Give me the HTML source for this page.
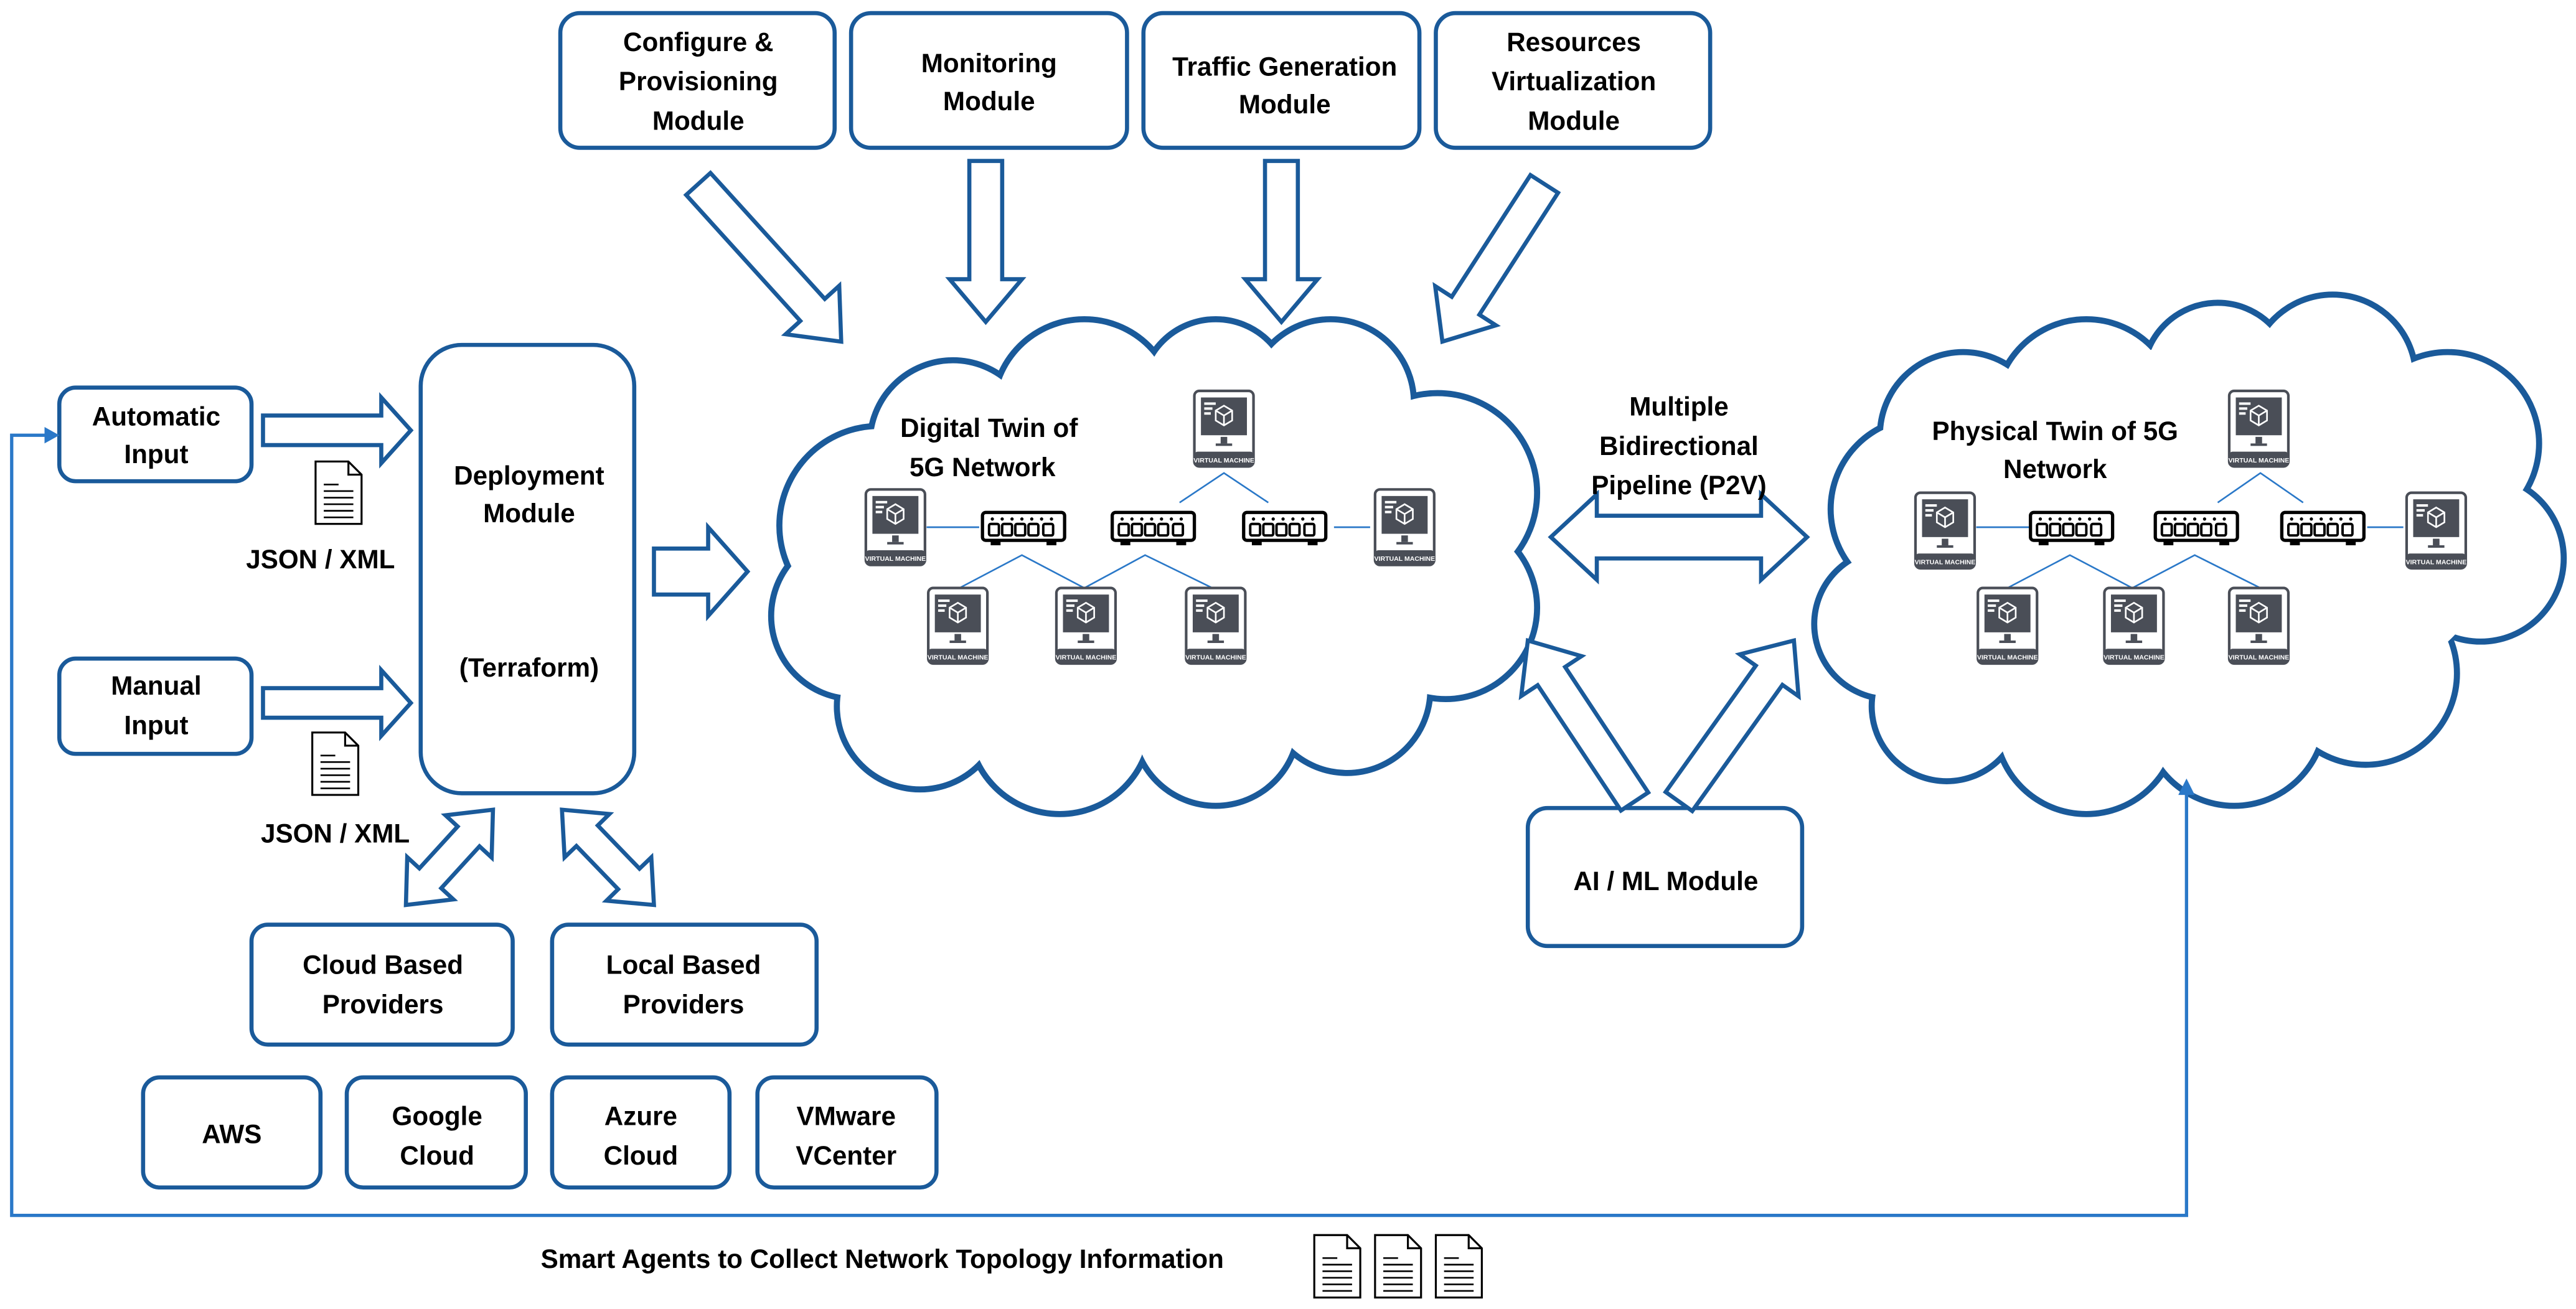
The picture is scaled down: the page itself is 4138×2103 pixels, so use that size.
<!DOCTYPE html>
<html><head><meta charset="utf-8"><style>
html,body{margin:0;padding:0;background:#fff;width:4138px;height:2103px;overflow:hidden}
svg{display:block}
text{font-family:"Liberation Sans Narrow","Liberation Sans",sans-serif;font-weight:bold;fill:#000}
</style></head><body>
<svg id="s" width="4138" height="2103" viewBox="0 0 1568 797" xmlns="http://www.w3.org/2000/svg">
<defs>
<g id="vm">
<rect x="0" y="0" width="36" height="46" rx="3" fill="#fff" stroke="#4a4e57" stroke-width="1.6"/>
<rect x="4" y="4" width="28" height="23" fill="#4a4e57"/>
<rect x="6" y="7" width="7" height="1.5" fill="#fff"/><rect x="6" y="10" width="5" height="1.5" fill="#fff"/><rect x="6" y="13" width="4" height="1.5" fill="#fff"/>
<path d="M18 9 L23 12 L23 18 L18 21 L13 18 L13 12 Z M13 12 L18 15 L23 12 M18 15 L18 21" fill="none" stroke="#fff" stroke-width="1"/>
<rect x="16" y="28" width="4" height="4" fill="#4a4e57"/><rect x="13" y="32" width="10" height="1.5" fill="#4a4e57"/>
<rect x="0" y="37" width="36" height="9" rx="2" fill="#4a4e57"/>
<text x="18" y="43.5" text-anchor="middle" style="font-size:4px;fill:#fff">VIRTUAL MACHINE</text>
</g>
<g id="sw">
<rect x="0" y="0" width="50" height="17" rx="2" fill="#fff" stroke="#000" stroke-width="2"/>
<g fill="#000"><circle cx="6" cy="4" r="1"/><circle cx="12" cy="4" r="1"/><circle cx="18" cy="4" r="1"/><circle cx="24" cy="4" r="1"/><circle cx="30" cy="4" r="1"/><circle cx="36" cy="4" r="1"/><circle cx="42" cy="4" r="1"/></g>
<g fill="none" stroke="#000" stroke-width="1.5"><rect x="4" y="7" width="6" height="7" rx="1"/><rect x="12" y="7" width="6" height="7" rx="1"/><rect x="20" y="7" width="6" height="7" rx="1"/><rect x="28" y="7" width="6" height="7" rx="1"/><rect x="37" y="7" width="6" height="7" rx="1"/></g>
<rect x="5" y="17" width="6" height="3" fill="#000"/><rect x="39" y="17" width="6" height="3" fill="#000"/>
</g>
<g id="doc">
<path d="M0 0 H20 L28 8 V38 H0 Z M20 0 V8 H28" fill="#fff" stroke="#000" stroke-width="1.2"/>
<g stroke="#000" stroke-width="1"><line x1="5" y1="14" x2="14" y2="14"/><line x1="5" y1="18" x2="23" y2="18"/><line x1="5" y1="22" x2="23" y2="22"/><line x1="5" y1="26" x2="23" y2="26"/><line x1="5" y1="30" x2="23" y2="30"/><line x1="5" y1="34" x2="23" y2="34"/></g>
</g>
</defs>
<g id="clouds"></g>
<g fill="#fff" stroke="#1a5a9a" stroke-width="2.5">
<rect x="341" y="8" width="167" height="82" rx="12"/>
<rect x="518" y="8" width="168" height="82" rx="12"/>
<rect x="696" y="8" width="168" height="82" rx="12"/>
<rect x="874" y="8" width="167" height="82" rx="12"/>
<rect x="36" y="236" width="117" height="57" rx="10"/>
<rect x="36" y="401" width="117" height="58" rx="10"/>
<rect x="256" y="210" width="130" height="273" rx="25"/>
<rect x="153" y="563" width="159" height="73" rx="10"/>
<rect x="336" y="563" width="161" height="73" rx="10"/>
<rect x="87" y="656" width="108" height="67" rx="10"/>
<rect x="211" y="656" width="109" height="67" rx="10"/>
<rect x="336" y="656" width="108" height="67" rx="10"/>
<rect x="461" y="656" width="109" height="67" rx="10"/>
<rect x="930" y="492" width="167" height="84" rx="12"/>
</g>
<g id="arrows" fill="#fff" stroke="#1a5a9a" stroke-width="2.5" stroke-linejoin="miter"></g>
<g style="font-size:16px" text-anchor="middle">
<text x="425" y="31">Configure &amp;</text><text x="425" y="55">Provisioning</text><text x="425" y="79">Module</text>
<text x="602" y="44">Monitoring</text><text x="602" y="67">Module</text>
<text x="782" y="46">Traffic Generation</text><text x="782" y="69">Module</text>
<text x="958" y="31">Resources</text><text x="958" y="55">Virtualization</text><text x="958" y="79">Module</text>
<text x="95" y="259">Automatic</text><text x="95" y="282">Input</text>
<text x="95" y="423">Manual</text><text x="95" y="447">Input</text>
<text x="322" y="295">Deployment</text><text x="322" y="318">Module</text>
<text x="322" y="412">(Terraform)</text>
<text x="195" y="346">JSON / XML</text>
<text x="204" y="513">JSON / XML</text>
<text x="233" y="593">Cloud Based</text><text x="233" y="617">Providers</text>
<text x="416" y="593">Local Based</text><text x="416" y="617">Providers</text>
<text x="141" y="696">AWS</text>
<text x="266" y="685">Google</text><text x="266" y="709">Cloud</text>
<text x="390" y="685">Azure</text><text x="390" y="709">Cloud</text>
<text x="515" y="685">VMware</text><text x="515" y="709">VCenter</text>
<text x="1014" y="542">AI / ML Module</text>
<text x="1022" y="253">Multiple</text><text x="1022" y="277">Bidirectional</text><text x="1022" y="301">Pipeline (P2V)</text>
<text x="602" y="266">Digital Twin of</text><text x="598" y="290">5G Network</text>
<text x="1251" y="268">Physical Twin of 5G</text><text x="1251" y="291">Network</text>
<text x="537" y="772">Smart Agents to Collect Network Topology Information</text>
</g>
<use href="#doc" x="192" y="281"/>
<use href="#doc" x="190" y="446"/>
<use href="#doc" x="800" y="752"/>
<use href="#doc" x="837" y="752"/>
<use href="#doc" x="874" y="752"/>
<g fill="none" stroke="#2a78c8" stroke-width="2">
<polyline points="1331,482 1331,740 7,740 7,265 28,265"/>
</g>
<polygon points="36,265 27,260 27,270" fill="#2a78c8"/>
<polygon points="1331,474 1326,484 1336,484" fill="#2a78c8"/>
<g fill="none" stroke="#2a78c8" stroke-width="1">
<line x1="564" y1="321" x2="596" y2="321"/><line x1="812" y1="321" x2="834" y2="321"/>
<polyline points="718,306 745,288 772,306"/>
<polyline points="584,358 622,338 660,358 697,338 738,358"/>
<line x1="1203" y1="321" x2="1235" y2="321"/><line x1="1441" y1="321" x2="1463" y2="321"/>
<polyline points="1350,306 1376,288 1402,306"/>
<polyline points="1222,358 1260,338 1298,358 1336,338 1376,358"/>
</g>
<use href="#vm" x="527" y="298"/><use href="#vm" x="727" y="238"/><use href="#vm" x="837" y="298"/>
<use href="#vm" x="565" y="358"/><use href="#vm" x="643" y="358"/><use href="#vm" x="722" y="358"/>
<use href="#sw" x="598" y="312"/><use href="#sw" x="677" y="312"/><use href="#sw" x="757" y="312"/>
<use href="#vm" x="1166" y="300"/><use href="#vm" x="1357" y="238"/><use href="#vm" x="1465" y="300"/>
<use href="#vm" x="1204" y="358"/><use href="#vm" x="1281" y="358"/><use href="#vm" x="1357" y="358"/>
<use href="#sw" x="1236" y="312"/><use href="#sw" x="1312" y="312"/><use href="#sw" x="1389" y="312"/>
</svg>
<script>
var NS="http://www.w3.org/2000/svg";
function cloud(circles,ell){
  var g=document.getElementById("clouds");
  circles.forEach(function(c){var e=document.createElementNS(NS,"circle");e.setAttribute("cx",c[0]);e.setAttribute("cy",c[1]);e.setAttribute("r",c[2]);e.setAttribute("fill","#fff");e.setAttribute("stroke","#1a5a9a");e.setAttribute("stroke-width","5");g.appendChild(e);});
  circles.forEach(function(c){var e=document.createElementNS(NS,"circle");e.setAttribute("cx",c[0]);e.setAttribute("cy",c[1]);e.setAttribute("r",c[2]-1.2);e.setAttribute("fill","#fff");g.appendChild(e);});
  var e=document.createElementNS(NS,"ellipse");e.setAttribute("cx",ell[0]);e.setAttribute("cy",ell[1]);e.setAttribute("rx",ell[2]);e.setAttribute("ry",ell[3]);e.setAttribute("fill","#fff");g.appendChild(e);
}
cloud([[700,340,115],[535,320,60],[520,375,50],[560,430,50],[645,440,55],[740,440,50],[820,420,50],[880,370,55],[875,300,60],[810,245,50],[740,240,45],[660,250,55],[580,270,50]],[705,345,185,95]);
cloud([[1330,330,120],[1170,310,55],[1150,380,45],[1185,430,45],[1270,440,55],[1360,435,55],[1440,410,55],[1510,340,50],[1490,270,55],[1420,230,50],[1350,230,45],[1270,250,55],[1195,265,50]],[1335,340,180,100]);
function arrow(x1,y1,x2,y2,w,h,L,dbl){
  var dx=x2-x1,dy=y2-y1,d=Math.hypot(dx,dy),ux=dx/d,uy=dy/d,nx=-uy,ny=ux,p=[];
  function P(t,s){p.push((x1+ux*t+nx*s).toFixed(1)+","+(y1+uy*t+ny*s).toFixed(1));}
  if(dbl){P(0,0);P(L,h);P(L,w);}else{P(0,w);}
  P(d-L,w);P(d-L,h);P(d,0);P(d-L,-h);P(d-L,-w);
  if(dbl){P(L,-w);P(L,-h);}else{P(0,-w);}
  var e=document.createElementNS(NS,"polygon");e.setAttribute("points",p.join(" "));document.getElementById("arrows").appendChild(e);
}
arrow(425,112,512,208,10,22,26);
arrow(600,98,600,196,10,22,26);
arrow(780,98,780,196,10,22,26);
arrow(940,112,878,208,10,22,26);
arrow(160,262,250,262,9,20,18);
arrow(160,428,250,428,9,20,18);
arrow(398,348,455,348,14,27,24);
arrow(944,327,1100,327,13,26,28,true);
arrow(300,493,247,551,9,19,22,true);
arrow(342,493,398,551,9,19,22,true);
arrow(995,488,930,390,10,22,26);
arrow(1022,488,1092,390,10,22,26);
</script>
</body></html>
